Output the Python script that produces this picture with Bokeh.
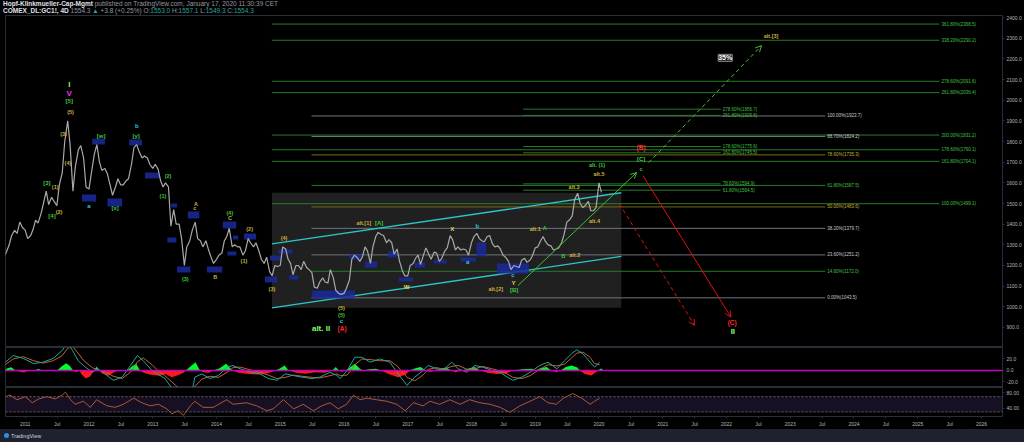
import numpy as np
import pandas as pd
from bokeh.plotting import figure
from bokeh.models import (Range1d, FixedTicker, NumeralTickFormatter, Label, Arrow, OpenHead,
                          Span, BoxAnnotation, GlobalInlineStyleSheet, Div)
from bokeh.layouts import column
from bokeh.embed import file_html
from bokeh.resources import INLINE
from bokeh.core.properties import value

# ---------------- DATA ----------------
# Gold (COMEX GC1!) closes, sampled on the 1st and 15th of each month, from Sep 2010
gold_2010 = [1240, 1265, 1300, 1345, 1370, 1355, 1410, 1385]
gold_2011 = [1370, 1330, 1345, 1375, 1420, 1405, 1450, 1500, 1560, 1495, 1530, 1510,
             1490, 1590, 1650, 1800, 1900, 1780, 1560, 1680, 1760, 1780, 1720, 1580]
gold_2012 = [1570, 1650, 1740, 1785, 1700, 1660, 1670, 1645, 1590, 1540, 1580, 1620,
             1590, 1590, 1610, 1620, 1690, 1770, 1785, 1750, 1720, 1730, 1720, 1690]
gold_2013 = [1670, 1690, 1665, 1610, 1580, 1600, 1580, 1390, 1470, 1400, 1400, 1330,
             1200, 1290, 1320, 1370, 1410, 1330, 1320, 1290, 1320, 1280, 1240, 1210]
gold_2014 = [1230, 1250, 1260, 1320, 1340, 1380, 1290, 1300, 1290, 1290, 1250, 1270,
             1330, 1310, 1290, 1310, 1270, 1230, 1210, 1240, 1170, 1150, 1200, 1195]
gold_2015 = [1200, 1290, 1280, 1230, 1210, 1155, 1200, 1200, 1180, 1220, 1190, 1180,
             1165, 1095, 1090, 1120, 1140, 1120, 1115, 1180, 1140, 1080, 1065, 1060]
gold_2016 = [1065, 1090, 1130, 1230, 1250, 1240, 1220, 1240, 1290, 1270, 1210, 1290,
             1340, 1360, 1350, 1345, 1310, 1325, 1310, 1255, 1280, 1220, 1175, 1150]
gold_2017 = [1150, 1200, 1210, 1235, 1250, 1205, 1250, 1285, 1255, 1230, 1265, 1260,
             1220, 1235, 1270, 1285, 1345, 1325, 1275, 1290, 1275, 1280, 1275, 1250]
gold_2018 = [1310, 1340, 1355, 1330, 1320, 1315, 1340, 1345, 1305, 1290, 1295, 1280,
             1250, 1240, 1220, 1180, 1200, 1195, 1190, 1225, 1235, 1215, 1225, 1245]
gold_2019 = [1285, 1290, 1320, 1340, 1315, 1300, 1295, 1275, 1280, 1285, 1310, 1350,
             1410, 1420, 1440, 1520, 1550, 1500, 1480, 1490, 1510, 1465, 1465, 1480]
gold_2020 = [1600, 1554.3]

# MACD panel: (decimal year, macd, signal)
macd_rows = [
    (2010.66, 11.6, 8), (2010.81, 26, 20), (2010.97, 21, 24), (2011.13, 12, 17),
    (2011.28, 14.5, 13), (2011.44, 21, 17), (2011.58, 35, 26), (2011.66, 48, 38),
    (2011.74, 35, 42), (2011.83, 17, 30), (2011.91, 9, 18), (2012.05, -3, 5),
    (2012.14, 3, 1), (2012.25, -6, -2), (2012.38, -17, -10), (2012.52, -11.6, -14),
    (2012.65, 8.7, -3), (2012.76, 26, 15), (2012.85, 17, 22), (2012.99, 0, 10),
    (2013.08, -6, 0), (2013.19, -14, -9), (2013.30, -31, -20), (2013.43, -40, -33),
    (2013.62, -35, -38), (2013.66, -11.6, -28), (2013.77, -6, -15), (2013.90, -14, -10),
    (2014.03, -8.7, -12), (2014.17, 5.8, -3), (2014.26, 8.7, 5), (2014.37, 2.9, 6),
    (2014.53, -2.9, 1), (2014.68, -5.8, -3), (2014.81, -14, -8), (2014.95, -17, -14),
    (2015.08, -5.8, -12), (2015.20, -8.7, -8), (2015.34, -11.6, -10), (2015.50, -14, -12),
    (2015.62, -11.6, -13), (2015.78, -3, -9), (2015.89, -8.7, -6), (2015.94, -14, -9),
    (2016.05, 0, -8), (2016.17, 23, 10), (2016.28, 23, 20), (2016.41, 14.5, 19),
    (2016.56, 20, 17), (2016.72, 14.5, 17), (2016.83, -3, 8), (2016.99, -26, -12),
    (2017.11, -11.6, -18), (2017.24, 0, -8), (2017.32, 8.7, 2), (2017.46, 2.9, 5),
    (2017.55, 0, 2), (2017.69, 14.5, 7), (2017.79, 2.9, 9), (2017.93, -3, 2),
    (2018.05, 8.7, 3), (2018.18, 5.8, 7), (2018.32, 0, 3), (2018.45, -3, -1),
    (2018.56, -11.6, -6), (2018.65, -17, -12), (2018.79, -11.6, -14), (2018.92, -3, -9),
    (2019.07, 8.7, 2), (2019.20, 14.5, 10), (2019.34, 2.9, 8), (2019.46, 17, 11),
    (2019.57, 29, 22), (2019.65, 36, 30), (2019.75, 29, 32), (2019.86, 14.5, 23),
    (2019.93, 5.8, 12), (2020.01, 14.5, 10),
]
# MACD histogram: (decimal year, value)
hist_rows = [
    (2010.66, 0), (2010.72, 4), (2010.78, 5.8), (2010.85, 0), (2010.92, -2), (2010.98, -3.5),
    (2011.06, 0), (2011.16, 0), (2011.20, 3), (2011.27, 0), (2011.50, 0), (2011.56, 6),
    (2011.64, 12.7), (2011.70, 8), (2011.75, 0), (2011.80, -3), (2011.85, 0), (2011.88, -6),
    (2011.95, -14), (2012.02, -10), (2012.08, 0), (2012.12, 7), (2012.16, 0), (2012.20, -5),
    (2012.30, -9), (2012.38, -4), (2012.45, 0), (2012.60, 0), (2012.68, 8), (2012.74, 11.6),
    (2012.80, 0), (2012.86, -4), (2012.95, -7), (2013.10, -9), (2013.20, -6), (2013.30, -11.6),
    (2013.40, -8), (2013.48, -4), (2013.52, 0), (2013.60, 8), (2013.67, 14.5), (2013.74, 0),
    (2013.80, -3), (2013.88, -4), (2013.95, 0), (2014.05, 4), (2014.15, 11.6), (2014.25, 0),
    (2014.35, -4), (2014.50, -6), (2014.65, -7), (2014.80, -5), (2014.93, 0), (2015.00, 4),
    (2015.07, 8.7), (2015.13, 0), (2015.25, -4), (2015.40, -5.8), (2015.55, -3), (2015.70, -4),
    (2015.82, 0), (2015.87, 6), (2015.92, 0), (2015.97, -2), (2016.03, 0), (2016.10, 6),
    (2016.17, 11.6), (2016.25, 3), (2016.30, 0), (2016.40, 2), (2016.50, 3), (2016.58, 0),
    (2016.70, -6), (2016.85, -11.6), (2016.97, -7), (2017.03, 0), (2017.12, 4), (2017.20, 6),
    (2017.28, 0), (2017.35, -3), (2017.42, 0), (2017.50, 3), (2017.60, 5), (2017.68, 0),
    (2017.75, -3), (2017.85, 0), (2017.97, 4), (2018.05, 6), (2018.13, 0), (2018.25, -4),
    (2018.40, -6), (2018.55, -5), (2018.65, 0), (2018.80, 2), (2018.95, 3), (2019.00, 0),
    (2019.08, 4), (2019.18, 6), (2019.25, 0), (2019.33, -3), (2019.40, 0), (2019.48, 6),
    (2019.57, 8.7), (2019.66, 5), (2019.70, 0), (2019.78, -6), (2019.88, -8.7), (2019.95, -3),
    (2019.99, 0), (2020.02, 3), (2020.05, 3), (2020.06, 0),
]
# RSI panel: (decimal year, value)
rsi_rows = [
    (2010.63, 66), (2010.76, 74), (2010.87, 62), (2011.00, 70), (2011.11, 54), (2011.21, 64),
    (2011.34, 70), (2011.47, 64), (2011.58, 74), (2011.63, 82), (2011.71, 62), (2011.78, 50),
    (2011.91, 58), (2012.02, 42), (2012.12, 62), (2012.28, 46), (2012.41, 42), (2012.54, 50),
    (2012.70, 66), (2012.83, 54), (2012.96, 46), (2013.09, 50), (2013.22, 38), (2013.30, 25),
    (2013.40, 33), (2013.48, 21), (2013.59, 46), (2013.66, 58), (2013.79, 42), (2013.95, 42),
    (2014.16, 62), (2014.26, 50), (2014.47, 54), (2014.63, 46), (2014.79, 33), (2014.89, 38),
    (2015.05, 62), (2015.21, 38), (2015.36, 50), (2015.52, 33), (2015.65, 46), (2015.78, 54),
    (2015.91, 38), (2016.04, 50), (2016.15, 74), (2016.25, 62), (2016.36, 66), (2016.51, 62),
    (2016.67, 58), (2016.83, 50), (2016.96, 33), (2017.09, 54), (2017.24, 46), (2017.35, 58),
    (2017.50, 50), (2017.66, 62), (2017.82, 50), (2017.97, 62), (2018.13, 54), (2018.29, 50),
    (2018.45, 42), (2018.60, 29), (2018.76, 46), (2018.92, 58), (2019.07, 70), (2019.20, 54),
    (2019.33, 50), (2019.44, 66), (2019.59, 78), (2019.73, 66), (2019.86, 50), (2019.93, 58),
    (2020.01, 66),
]
rsi_upper, rsi_lower = 70, 30

# Fibonacci drawings (levels in price, anchors in decimal years)
fib_long_pct = ["100.00%", "161.80%", "178.60%", "200.00%", "261.80%", "278.60%", "338.20%", "361.80%"]
fib_long_lvl = [1499.1, 1704.1, 1760.1, 1831.2, 2036.4, 2091.6, 2290.2, 2368.5]
fib_long_span = (2014.87, 2025.34)

fib_mid_pct = ["0.00%", "14.60%", "23.60%", "38.20%", "50.00%", "61.80%", "78.60%", "88.70%", "100.00%"]
fib_mid_lvl = [1043.5, 1172.0, 1251.2, 1379.7, 1483.6, 1587.5, 1735.3, 1824.2, 1923.7]
fib_mid_span = (2015.49, 2023.55)

fib_short_pct = ["61.80%", "78.60%", "161.80%", "178.60%", "261.80%", "278.60%"]
fib_short_lvl = [1564.5, 1594.9, 1745.5, 1775.6, 1926.6, 1956.7]
fib_short_span = (2018.81, 2021.91)

# Trend channel (two parallel lines) and its shaded range
channel_upper = [(2014.87, 1305), (2020.35, 1552)]
channel_lower = [(2014.87, 995), (2020.35, 1244)]
channel_box = (2014.87, 2020.35, 1552, 995)

# Blue zone boxes: (start year, end year, top price, bottom price)
zones = [
    (2011.89, 2012.11, 1543, 1510), (2012.29, 2012.52, 1524, 1486), (2012.05, 2012.25, 1814, 1785),
    (2012.63, 2012.83, 1810, 1781), (2012.88, 2013.10, 1650, 1621), (2013.29, 2013.38, 1500, 1481),
    (2013.23, 2013.37, 1335, 1311), (2013.55, 2013.73, 1461, 1427), (2013.38, 2013.59, 1195, 1166),
    (2013.85, 2014.09, 1195, 1166), (2014.10, 2014.31, 1413, 1379), (2014.17, 2014.31, 1268, 1248),
    (2014.26, 2014.34, 1345, 1326), (2014.43, 2014.62, 1355, 1326), (2014.76, 2014.95, 1147, 1118),
    (2014.84, 2015.02, 1248, 1224), (2014.97, 2015.19, 1277, 1258), (2015.14, 2015.28, 1152, 1132),
    (2015.50, 2016.17, 1079, 1040), (2016.09, 2016.28, 1253, 1229), (2016.33, 2016.52, 1219, 1190),
    (2016.69, 2016.83, 1268, 1239), (2016.86, 2017.08, 1142, 1123), (2017.11, 2017.27, 1215, 1190),
    (2017.41, 2017.61, 1229, 1210), (2017.83, 2018.07, 1239, 1219), (2018.08, 2018.23, 1311, 1244),
    (2018.40, 2018.90, 1210, 1161),
]

# Projection arrows: (x0, p0, x1, p1, kind)
projections = [
    (2018.73, 1103, 2020.59, 1650, "bull_solid"),
    (2020.78, 1698, 2022.55, 2264, "bull_dash"),
    (2020.69, 1635, 2022.07, 950, "bear_solid"),
    (2020.32, 1498, 2021.50, 910, "bear_dash"),
]

# Elliott wave labels per degree: (text, year, price)
labels_cycle = [("I", 2011.69, 2076), ("alt. II", 2015.64, 894), ("II", 2022.10, 881)]
labels_primary5 = [("V", 2011.69, 2034)]
labels_bracket = [("[5]", 2011.69, 1994), ("[3]", 2011.34, 1598), ("[4]", 2011.42, 1439),
                  ("[w]", 2012.19, 1829), ("[x]", 2012.41, 1476), ("[y]", 2012.74, 1829),
                  ("[A]", 2016.55, 1407), ("[B]", 2018.67, 1079), ("[C]", 2020.66, 1716)]
labels_green = [("(2)", 2013.24, 1632), ("(1)", 2013.16, 1534), ("(3)", 2013.51, 1136),
                ("(4)", 2014.21, 1455), ("(5)", 2015.96, 958), ("alt. (1)", 2019.97, 1684),
                ("A", 2019.15, 1380), ("B", 2019.44, 1248), ("c", 2020.66, 1668)]
labels_olive = [("(5)", 2011.71, 1942), ("(3)", 2011.60, 1834), ("(4)", 2011.67, 1694),
                ("(1)", 2011.47, 1579), ("(2)", 2011.53, 1458), ("A", 2013.68, 1499),
                ("c", 2013.66, 1476), ("B", 2013.98, 1142), ("C", 2014.21, 1431),
                ("(2)", 2014.52, 1378), ("(1)", 2014.43, 1221), ("(4)", 2015.06, 1332),
                ("(3)", 2014.87, 1087), ("(5)", 2015.96, 994), ("alt.[1]", 2016.31, 1407),
                ("alt.[2]", 2018.38, 1087), ("alt.1", 2019.00, 1378), ("alt.2", 2019.62, 1253),
                ("alt.3", 2019.61, 1582), ("alt.4", 2019.93, 1414), ("alt.5", 2020.00, 1644),
                ("alt.[3]", 2022.70, 2313)]
labels_cyan = [("a", 2012.00, 1487), ("b", 2012.75, 1873), ("c", 2015.96, 931),
               ("b", 2018.09, 1390), ("a", 2017.94, 1219), ("c", 2018.65, 1152)]
labels_yellow = [("W", 2016.98, 1095), ("X", 2017.70, 1378), ("Y", 2018.66, 1116)]
labels_red = [("(A)", 2015.97, 894), ("(B)", 2020.66, 1770), ("(C)", 2022.09, 926)]
prob_label = ("35%", 2021.98, 2205)

# Axis ticks
year_ticks = list(range(2011, 2027))
price_ticks = list(range(900, 2401, 100))
macd_ticks = [-20, 0, 20]
rsi_ticks = [40, 80]

header_author = "Hopf-Klinkmueller-Cap-Mgmt"
header_pub = "published on TradingView.com, January 17, 2020 11:30:39 CET"
header_symbol = "COMEX_DL:GC1!, 4D"
header_last = "1554.3"
header_change = "+3.8 (+0.25%)"
header_ohlc = [("O:", "1553.0"), ("H:", "1557.1"), ("L:", "1549.3"), ("C:", "1554.3")]

# ---------------- STYLE / LAYOUT ----------------
W = 1024
BG = "#000000"
SEP = "#2a2e39"
AXTXT = "#b2b5be"
FONT = value("Liberation Sans")
X0, X1 = 2010.69, 2026.33
xr = Range1d(X0, X1)


def to_year(dates):
    d = pd.DatetimeIndex(dates)
    days = np.where(d.is_leap_year, 366.0, 365.0)
    return d.year.to_numpy() + (d.dayofyear.to_numpy() - 1) / days


def style_yaxis(p, ticks, fmt):
    ax = p.yaxis[0]
    ax.ticker = FixedTicker(ticks=ticks)
    ax.formatter = NumeralTickFormatter(format=fmt)
    ax.axis_line_color = SEP
    ax.major_tick_line_color = SEP
    ax.major_tick_in = 0
    ax.major_tick_out = 2
    ax.minor_tick_line_color = None
    ax.major_label_text_color = AXTXT
    ax.major_label_text_font_size = "5px"
    ax.major_label_text_font = "Liberation Sans"
    ax.major_label_standoff = 2


def panel(h, y_range, xaxis=False):
    p = figure(width=W, height=h, x_range=xr, y_range=y_range, output_backend="svg",
               toolbar_location=None, y_axis_location="right",
               x_axis_location="below" if xaxis else None,
               min_border_left=5, min_border_right=21, min_border_top=0, min_border_bottom=0,
               background_fill_color=BG, border_fill_color=BG, outline_line_color=SEP)
    p.grid.visible = False
    return p


def add_texts(p, rows, color, size, bold=True):
    p.text(x=[r[1] for r in rows], y=[r[2] for r in rows], text=[r[0] for r in rows],
           text_color=color, text_font_size=size, text_font=FONT,
           text_font_style="bold" if bold else "normal",
           text_align="center", text_baseline="middle")


# ---------- header (HTML text) ----------
TEAL = "#26a69a"
ohlc_html = " ".join(f'{k}<span style="color:{TEAL}">{v}</span>' for k, v in header_ohlc)
header_html = (
    f'<div style="padding:1px 0 0 3px;white-space:nowrap;">'
    f'<b style="color:#e0e3eb">{header_author}</b> {header_pub}<br>'
    f'<b style="color:#e0e3eb">{header_symbol}</b> {header_last} '
    f'<span style="color:{TEAL}">&#9650;</span> {header_change} {ohlc_html}</div>'
)
hdr = Div(text=header_html, width=W, height=15, margin=0,
          styles={"background-color": BG, "color": "#9598a1", "font-family": "Liberation Sans",
                  "font-size": "6.5px", "line-height": "6.5px", "overflow": "hidden"})

# ---------- main price panel ----------
close = gold_2010 + gold_2011 + gold_2012 + gold_2013 + gold_2014 + gold_2015 + \
    gold_2016 + gold_2017 + gold_2018 + gold_2019 + gold_2020
dates = pd.date_range("2010-09-01", periods=len(close), freq="SMS")
px = to_year(dates)

p = panel(332, Range1d(803, 2410))
style_yaxis(p, price_ticks, "0.0")

bx0, bx1, btop, bbot = channel_box
p.quad(left=[bx0], right=[bx1], top=[btop], bottom=[bbot], fill_color="#222222",
       fill_alpha=0.95, line_color=None)

GREEN_LINE, GRAY_LINE, OLIVE_LINE = "#2a7a2a", "#6f7280", "#7a6a12"
GREEN_TXT, GRAY_TXT, OLIVE_TXT = "#43c043", "#c8cbd3", "#c8b03a"
mid_style = {"0.00%": "gray", "14.60%": "green", "23.60%": "gray", "38.20%": "gray",
             "50.00%": "olive", "61.80%": "green", "78.60%": "olive", "88.70%": "gray",
             "100.00%": "gray"}
line_col = {"green": GREEN_LINE, "gray": GRAY_LINE, "olive": OLIVE_LINE}
txt_col = {"green": GREEN_TXT, "gray": GRAY_TXT, "olive": OLIVE_TXT}


def fib_set(pcts, lvls, span, kinds):
    x0, x1 = span
    p.segment(x0=[x0] * len(lvls), x1=[x1] * len(lvls), y0=lvls, y1=lvls,
              line_color=[line_col[k] for k in kinds], line_width=1)
    p.text(x=[x1] * len(lvls), y=lvls, text=[f"{a}({b:.1f})" for a, b in zip(pcts, lvls)],
           x_offset=2, text_color=[txt_col[k] for k in kinds], text_font_size="4.5px",
           text_font=FONT, text_baseline="middle", text_align="left")


fib_set(fib_long_pct, fib_long_lvl, fib_long_span, ["green"] * len(fib_long_lvl))
fib_set(fib_mid_pct, fib_mid_lvl, fib_mid_span, [mid_style[k] for k in fib_mid_pct])
fib_set(fib_short_pct, fib_short_lvl, fib_short_span, ["green"] * len(fib_short_lvl))

for seg in (channel_upper, channel_lower):
    p.line(x=[seg[0][0], seg[1][0]], y=[seg[0][1], seg[1][1]], line_color="#2ec4c8", line_width=1.3)

p.quad(left=[z[0] for z in zones], right=[z[1] for z in zones], top=[z[2] for z in zones],
       bottom=[z[3] for z in zones], fill_color="#1a2a9e", fill_alpha=0.85, line_color=None)

p.line(x=px, y=close, line_color="#a9a9a9", line_width=1.2)

proj_style = {"bull_solid": ("#3fbf2f", "solid"), "bull_dash": ("#3fbf2f", "4 3"),
              "bear_solid": ("#e01010", "solid"), "bear_dash": ("#e01010", "4 3")}
for x0, y0, x1, y1, kind in projections:
    col, dash = proj_style[kind]
    p.add_layout(Arrow(end=OpenHead(size=6, line_color=col, line_width=1),
                       x_start=x0, y_start=y0, x_end=x1, y_end=y1,
                       line_color=col, line_width=1, line_dash=dash))

add_texts(p, labels_cycle, "#7dff6a", "8px")
add_texts(p, labels_primary5, "#ff2cff", "8px")
add_texts(p, labels_bracket, "#3fc43f", "6px")
add_texts(p, labels_green, "#3fc43f", "5.5px")
add_texts(p, labels_olive, "#c8b03a", "5.5px")
add_texts(p, labels_cyan, "#2ec8d8", "6px")
add_texts(p, labels_yellow, "#e8d84a", "6px")
add_texts(p, labels_red, "#ff2a2a", "6.5px")

p.add_layout(Label(x=prob_label[1], y=prob_label[2], text=prob_label[0], text_color="#ffffff",
                   text_font_size="7px", text_font_style="bold", text_font="Liberation Sans",
                   text_align="center", text_baseline="middle",
                   background_fill_color="#1e1e1e", border_line_color="#8a8a8a"))

# ---------- MACD panel ----------
m = panel(40, Range1d(-29.6, 40))
style_yaxis(m, macd_ticks, "0.0")
hx = np.array([r[0] for r in hist_rows])
hv = np.array([r[1] for r in hist_rows], dtype=float)
m.varea(x=hx, y1=0, y2=np.maximum(hv, 0), fill_color="#00ff2a")
m.varea(x=hx, y1=0, y2=np.minimum(hv, 0), fill_color="#ff1a1a")
m.add_layout(Span(location=0, dimension="width", line_color="#c400c4", line_width=1.5))
m.line(x=[r[0] for r in macd_rows], y=[r[2] for r in macd_rows], line_color="#c0622e", line_width=1)
m.line(x=[r[0] for r in macd_rows], y=[r[1] for r in macd_rows], line_color="#1ea5a5", line_width=1)

# ---------- RSI panel ----------
r = panel(42, Range1d(18, 94), xaxis=True)
style_yaxis(r, rsi_ticks, "0.00")
r.add_layout(BoxAnnotation(bottom=rsi_lower, top=rsi_upper, fill_color="#7e57c2", fill_alpha=0.18,
                           line_color=None))
for lv in (rsi_upper, rsi_lower):
    r.add_layout(Span(location=lv, dimension="width", line_color="#6a5c7a", line_width=1,
                      line_dash="2 2"))
r.line(x=[q[0] for q in rsi_rows], y=[q[1] for q in rsi_rows], line_color="#b8581f", line_width=1)

xa = r.xaxis[0]
ticks = []
overrides = {}
for y in year_ticks:
    ticks.append(y)
    overrides[y] = str(y)
    if y < year_ticks[-1]:
        ticks.append(y + 0.5)
        overrides[y + 0.5] = "Jul"
xa.ticker = FixedTicker(ticks=ticks)
xa.major_label_overrides = overrides
xa.axis_line_color = SEP
xa.major_tick_line_color = SEP
xa.major_tick_in = 0
xa.major_tick_out = 2
xa.minor_tick_line_color = None
xa.major_label_text_color = AXTXT
xa.major_label_text_font_size = "5px"
xa.major_label_text_font = "Liberation Sans"
xa.major_label_standoff = 2

# ---------- bottom bar (HTML text) ----------
bot = Div(text='<div style="padding:3px 0 0 4px;white-space:nowrap;">'
               '<span style="display:inline-block;width:5px;height:5px;border-radius:3px;'
               'background:#2f8fe6;margin-right:2px;vertical-align:middle"></span>'
               '<span style="vertical-align:middle">TradingView</span></div>',
          width=W, height=13, margin=0,
          styles={"background-color": "#1e222d", "color": "#d1d4dc", "font-family": "Liberation Sans",
                  "font-size": "5.5px", "line-height": "6px", "overflow": "hidden"})

layout = column(hdr, p, m, r, bot, spacing=0,
                stylesheets=[GlobalInlineStyleSheet(
                    css="html, body { background: #000000; overflow: hidden; }")])

open("out.html", "w").write(file_html(layout, INLINE))
